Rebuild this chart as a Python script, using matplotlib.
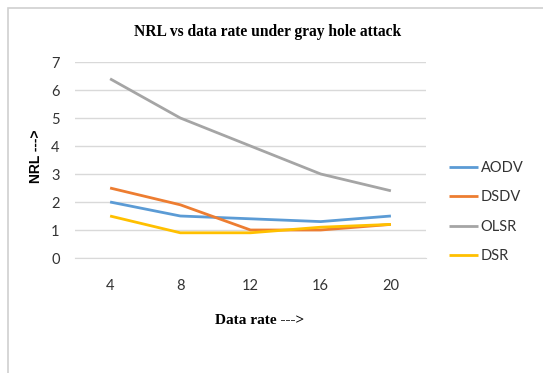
import matplotlib
matplotlib.use("Agg")
import matplotlib.pyplot as plt
from matplotlib.patches import Rectangle

categories = ["4", "8", "12", "16", "20"]
aodv = [2.0, 1.5, 1.4, 1.3, 1.5]
dsdv = [2.5, 1.9, 1.0, 1.0, 1.2]
olsr = [6.4, 5.0, 4.0, 3.0, 2.4]
dsr = [1.5, 0.9, 0.9, 1.1, 1.2]
series_names = ["AODV", "DSDV", "OLSR", "DSR"]
yticks = [0, 1, 2, 3, 4, 5, 6, 7]

colors = ["#5b9bd5", "#ed7d31", "#a5a5a5", "#ffc000"]
label_font = "Lato"

W, H = 543, 373
fig = plt.figure(figsize=(W / 100, H / 100), dpi=100)

# chart frame
fig.patches.append(Rectangle((8 / W, -0.05), 1.1, (H - 8) / H + 0.05,
                             transform=fig.transFigure, fill=False,
                             edgecolor="#d0d0d0", linewidth=1.2))

left, right, top, bottom = 75, 426, 62, 258
ax = fig.add_axes([left / W, 1 - bottom / H, (right - left) / W, (bottom - top) / H])

x = range(len(categories))
for vals, name, c in zip([aodv, dsdv, olsr, dsr], series_names, colors):
    ax.plot(x, vals, color=c, linewidth=2, label=name, solid_capstyle="butt")

ax.set_xlim(-0.5, len(categories) - 0.5)
ax.set_ylim(0, 7)
ax.set_yticks(yticks)
ax.set_xticks(list(x))
ax.set_xticklabels(categories)
ax.grid(axis="y", color="#d9d9d9", linewidth=1)
ax.set_axisbelow(True)
for s in ["top", "right", "left"]:
    ax.spines[s].set_visible(False)
ax.spines["bottom"].set_color("#d9d9d9")
ax.tick_params(length=0, labelsize=10.5, colors="#333333")
ax.tick_params(axis="x", pad=15)
ax.tick_params(axis="y", pad=11)
for lab in ax.get_xticklabels() + ax.get_yticklabels():
    lab.set_fontfamily(label_font)

fig.text(268 / W, 1 - 32 / H, "NRL vs data rate under gray hole attack",
         ha="center", va="center", fontfamily="Liberation Serif",
         fontweight="bold", fontsize=11.2)
fig.text(260 / W, 1 - 321 / H, "Data rate --->", ha="center", va="center",
         fontfamily="Liberation Serif", fontweight="bold", fontsize=11)
fig.text(36 / W, 1 - 156 / H, "NRL --->", ha="center", va="center",
         rotation=90, fontfamily="Liberation Sans", fontweight="bold",
         fontsize=10)

leg = ax.legend(loc="upper left", bbox_to_anchor=(436 / W, 1 - 148 / H),
                bbox_transform=fig.transFigure, frameon=False,
                handlelength=2.0, handletextpad=0.15, labelspacing=1.05,
                prop={"family": label_font, "size": 10.5})
for t in leg.get_texts():
    t.set_color("#333333")

fig.savefig("out.png", dpi=100)
